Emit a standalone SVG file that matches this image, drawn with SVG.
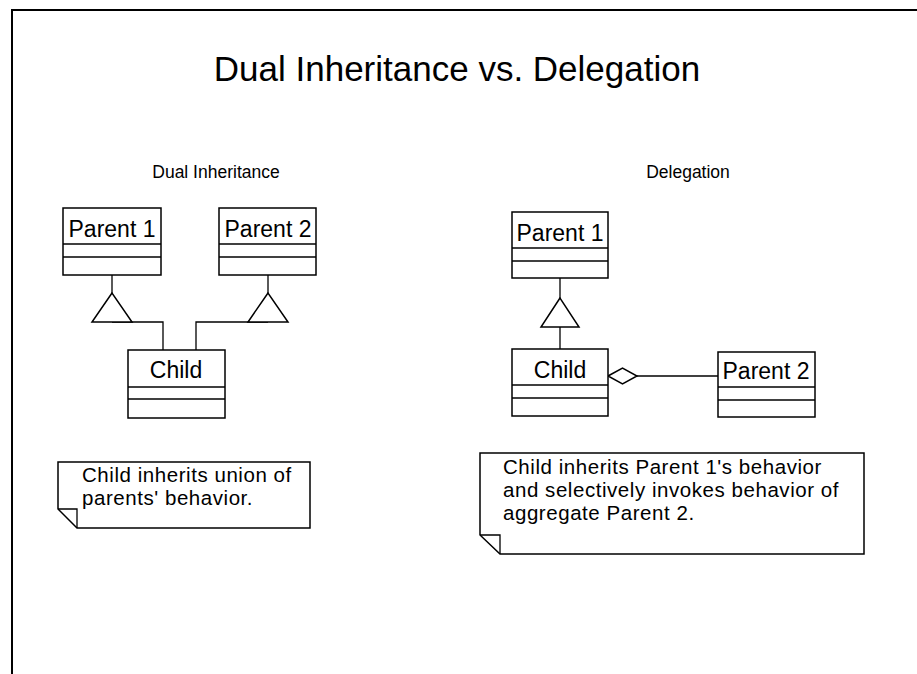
<svg xmlns="http://www.w3.org/2000/svg" width="917" height="674" viewBox="0 0 917 674">
<style>
  .box { fill: #fff; stroke: #000; stroke-width: 1.5; }
  .ln { fill: none; stroke: #000; stroke-width: 1.3; }
  .tri { fill: #fff; stroke: #000; stroke-width: 1.5; }
  text { font-family: "Liberation Sans", Arial, sans-serif; fill: #000; }
  .lbl { font-size: 23px; text-anchor: middle; }
  .note { font-size: 20.5px; letter-spacing: 0.55px; }
  .sub { font-size: 17.5px; text-anchor: middle; }
  .title { font-size: 35px; text-anchor: middle; }
</style>
<rect x="0" y="0" width="917" height="674" fill="#fff"/>
<path d="M12 674 V10 H917" fill="none" stroke="#000" stroke-width="2"/>
<text class="title" x="457" y="81">Dual Inheritance vs. Delegation</text>
<text class="sub" x="216" y="178">Dual Inheritance</text>
<text class="sub" x="688" y="178">Delegation</text>

<g id="connectors">
  <!-- left diagram -->
  <line class="ln" x1="112" y1="275" x2="112" y2="293"/>
  <polyline class="ln" points="112,322 163,322 163,350"/>
  <line class="ln" x1="268" y1="275" x2="268" y2="293"/>
  <polyline class="ln" points="268,322 196,322 196,350"/>
  <polygon class="tri" points="112,293 92,322 132,322"/>
  <polygon class="tri" points="268,293 248,322 288,322"/>
  <!-- right diagram -->
  <line class="ln" x1="560" y1="278" x2="560" y2="298"/>
  <line class="ln" x1="560" y1="327" x2="560" y2="349"/>
  <polygon class="tri" points="560,298 541,327 579,327"/>
  <line class="ln" x1="637" y1="376" x2="718" y2="376"/>
  <polygon class="tri" points="608,376 622.5,368 637,376 622.5,384"/>
</g>

<g id="dual-parent1">
  <rect class="box" x="63" y="208" width="98" height="67"/>
  <line class="ln" x1="63" y1="244" x2="161" y2="244"/>
  <line class="ln" x1="63" y1="257" x2="161" y2="257"/>
  <text class="lbl" x="112" y="237">Parent 1</text>
</g>
<g id="dual-parent2">
  <rect class="box" x="219" y="208" width="97" height="67"/>
  <line class="ln" x1="219" y1="244" x2="316" y2="244"/>
  <line class="ln" x1="219" y1="257" x2="316" y2="257"/>
  <text class="lbl" x="268" y="237">Parent 2</text>
</g>
<g id="dual-child">
  <rect class="box" x="128" y="350" width="97" height="68"/>
  <line class="ln" x1="128" y1="387" x2="225" y2="387"/>
  <line class="ln" x1="128" y1="399" x2="225" y2="399"/>
  <text class="lbl" x="176" y="378">Child</text>
</g>

<g id="deleg-parent1">
  <rect class="box" x="512" y="212" width="96" height="66"/>
  <line class="ln" x1="512" y1="248" x2="608" y2="248"/>
  <line class="ln" x1="512" y1="261" x2="608" y2="261"/>
  <text class="lbl" x="560" y="241">Parent 1</text>
</g>
<g id="deleg-child">
  <rect class="box" x="512" y="349" width="96" height="67"/>
  <line class="ln" x1="512" y1="385" x2="608" y2="385"/>
  <line class="ln" x1="512" y1="398" x2="608" y2="398"/>
  <text class="lbl" x="560" y="378">Child</text>
</g>
<g id="deleg-parent2">
  <rect class="box" x="718" y="352" width="97" height="65"/>
  <line class="ln" x1="718" y1="387" x2="815" y2="387"/>
  <line class="ln" x1="718" y1="400" x2="815" y2="400"/>
  <text class="lbl" x="766" y="379">Parent 2</text>
</g>

<g id="note-left">
  <path class="box" d="M58 462 H310 V528 H77 L58 509 Z"/>
  <polyline class="ln" points="58,509 77,509 77,528"/>
  <text class="note" x="82" y="482">Child inherits union of</text>
  <text class="note" x="82" y="505">parents' behavior.</text>
</g>
<g id="note-right">
  <path class="box" d="M480 453 H864 V554 H500 L480 535 Z"/>
  <polyline class="ln" points="480,535 500,535 500,554"/>
  <text class="note" x="503" y="474">Child inherits Parent 1's behavior</text>
  <text class="note" x="503" y="497">and selectively invokes behavior of</text>
  <text class="note" x="503" y="520">aggregate Parent 2.</text>
</g>
</svg>
